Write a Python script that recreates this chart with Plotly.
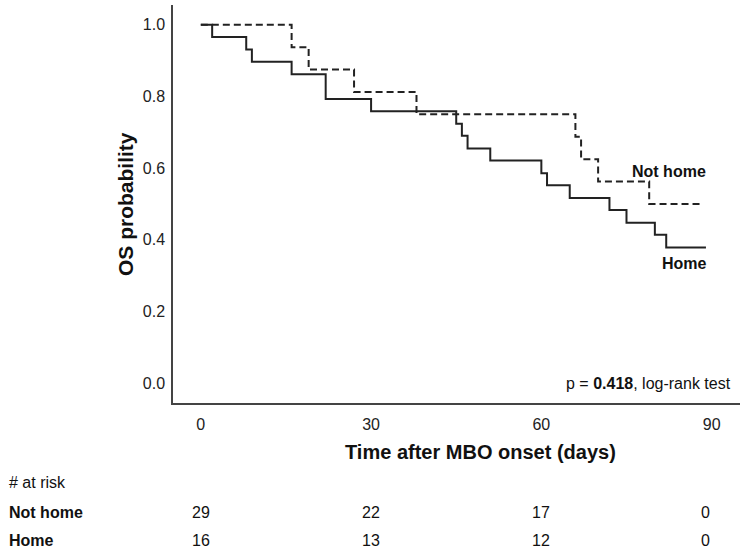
import plotly.graph_objects as go

# Kaplan-Meier step data
home_t = [0, 2, 8, 9, 16, 22, 30, 45, 46, 47, 51, 60, 61, 65, 72, 75, 80, 82, 89]
home_s = [1.0, 0.966, 0.931, 0.897, 0.862, 0.793, 0.759, 0.724, 0.690, 0.655,
          0.621, 0.586, 0.552, 0.517, 0.483, 0.448, 0.414, 0.379, 0.379]

nothome_t = [0, 16, 19, 27, 38, 66, 67, 70, 79, 88.5]
nothome_s = [1.0, 0.9375, 0.875, 0.8125, 0.75, 0.6875, 0.625, 0.5625, 0.5, 0.5]

x_ticks = [0, 30, 60, 90]
y_ticks = [0.0, 0.2, 0.4, 0.6, 0.8, 1.0]
y_tick_text = ["0.0", "0.2", "0.4", "0.6", "0.8", "1.0"]

risk_groups = ["Not home", "Home"]
risk_nothome = [29, 22, 17, 0]
risk_home = [16, 13, 12, 0]

FONT = "Liberation Sans, Arial, sans-serif"
LINE_COLOR = "#222222"

fig = go.Figure()
fig.add_trace(go.Scatter(x=nothome_t, y=nothome_s, mode="lines", line_shape="hv",
                         line=dict(color=LINE_COLOR, width=2, dash="7px,4px"),
                         name="Not home", showlegend=False, hoverinfo="skip"))
fig.add_trace(go.Scatter(x=home_t, y=home_s, mode="lines", line_shape="hv",
                         line=dict(color=LINE_COLOR, width=2),
                         name="Home", showlegend=False, hoverinfo="skip"))

fig.update_layout(
    width=750, height=555,
    margin=dict(l=173, r=10, t=5, b=152),
    paper_bgcolor="white", plot_bgcolor="white",
    font=dict(family=FONT, size=16, color="#222"),
    xaxis=dict(range=[-4.9, 95], tickvals=x_ticks, showgrid=False, zeroline=False,
               showline=True, linecolor="#444", linewidth=1.5, ticks="",
               ticklabelstandoff=6, tickfont=dict(size=16, color="#222")),
    yaxis=dict(range=[-0.055, 1.055], tickvals=y_ticks, ticktext=y_tick_text,
               showgrid=False, zeroline=False, showline=True, linecolor="#444",
               linewidth=1.5, ticks="", ticklabelstandoff=3,
               tickfont=dict(size=16, color="#222")),
)

ann = []
# curve labels
ann.append(dict(x=89.3, y=0.592, xref="x", yref="y", text="<b>Not home</b>",
                showarrow=False, xanchor="right", yanchor="middle",
                font=dict(size=16, color="#111")))
ann.append(dict(x=89.6, y=0.334, xref="x", yref="y", text="<b>Home</b>",
                showarrow=False, xanchor="right", yanchor="middle",
                font=dict(size=16, color="#111")))
# p-value
ann.append(dict(x=93.7, y=0.0, xref="x", yref="y",
                text="p = <b>0.418</b>, log-rank test",
                showarrow=False, xanchor="right", yanchor="middle",
                font=dict(size=16, color="#111")))
# axis titles
ann.append(dict(x=49.3, y=-0.1224, xref="x", yref="paper",
                text="<b>Time after MBO onset (days)</b>", showarrow=False,
                xanchor="center", yanchor="middle", font=dict(size=20, color="#111")))
ann.append(dict(x=0, y=0.5, xref="paper", yref="paper", xshift=125 - 173,
                text="<b>OS probability</b>", showarrow=False, textangle=-90,
                xanchor="center", yanchor="middle", font=dict(size=21, color="#111")))
# at-risk table
ann.append(dict(x=0, y=-0.1985, xref="paper", yref="paper", text="# at risk",
                showarrow=False, xanchor="left", yanchor="middle", xshift=7 - 173,
                font=dict(size=16, color="#111")))
row_y = [-0.2739, -0.3467]
rows = [risk_nothome, risk_home]
for gname, yy, vals in zip(risk_groups, row_y, rows):
    ann.append(dict(x=0, y=yy, xref="paper", yref="paper", text="<b>" + gname + "</b>",
                    showarrow=False, xanchor="left", yanchor="middle",
                    xshift=7 - 173, font=dict(size=16, color="#111")))
    for t, v in zip(x_ticks, vals):
        ann.append(dict(x=t, y=yy, xref="x", yref="paper", text=str(v),
                        showarrow=False, xanchor="center", yanchor="middle",
                        xshift=-6 if t == 90 else 0,
                        font=dict(size=16, color="#111")))

fig.update_layout(annotations=ann)
fig.write_html("out.html")
